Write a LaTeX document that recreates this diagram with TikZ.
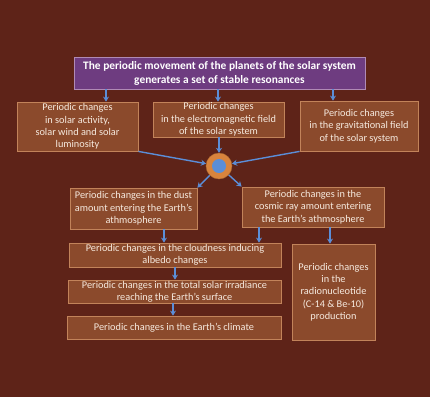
\documentclass[tikz,border=0pt]{standalone}
\usepackage{fontspec}
\setmainfont{Carlito}
\usetikzlibrary{arrows.meta}
\definecolor{bg}{HTML}{5E2318}
\definecolor{boxfill}{HTML}{8B4A2C}
\definecolor{boxline}{HTML}{C2835A}
\definecolor{purp}{HTML}{6E3C80}
\definecolor{purpline}{HTML}{B08AB5}
\definecolor{arrblue}{HTML}{5B8ED8}
\definecolor{orng}{HTML}{D9843D}
\definecolor{txt}{HTML}{F6EADF}
\tikzset{
  box/.style={draw=boxline, fill=boxfill, line width=0.8pt, inner sep=0pt,
    text=txt, align=center, font=\fontsize{10.3}{12.3}\selectfont},
  titlebox/.style={draw=purpline, fill=purp, line width=0.8pt, inner sep=0pt,
    text=white, align=center, font=\fontsize{11.4}{14}\selectfont\bfseries},
  arr/.style={draw=arrblue, line width=1.4pt, -{Stealth[length=5pt,width=6pt]}}
}
\begin{document}
\begin{tikzpicture}[x=1pt,y=-1pt]
\fill[bg] (0,0) rectangle (430,397);
\useasboundingbox (0,0) rectangle (430,397);
\node[titlebox, minimum width=291pt, minimum height=32pt] (t) at (219.5,73)
  {The periodic movement of the planets of the solar system\\generates a set of stable resonances};
\node[box, minimum width=121pt, minimum height=49pt] (b1) at (77.5,126.5)
  {Periodic changes\\in solar activity,\\solar wind and solar\\luminosity};
\node[box, minimum width=131pt, minimum height=35pt] (b2) at (218.5,119.5)
  {Periodic changes\\in the electromagnetic field\\of the solar system};
\node[box, minimum width=118pt, minimum height=50pt] (b3) at (359,126)
  {Periodic changes\\in the gravitational field\\of the solar system};
\node[circle, fill=orng, draw=orng!80!black, line width=0.4pt, minimum size=26pt, inner sep=0pt] (c) at (219,166) {};
\node[circle, fill=arrblue, minimum size=14pt, inner sep=0pt] (ci) at (219,166) {};
\node[box, minimum width=127pt, minimum height=41pt] (b4) at (133.5,208.5)
  {Periodic changes in the dust\\amount entering the Earth's\\athmosphere};
\node[box, minimum width=142pt, minimum height=40pt] (b5) at (313,207)
  {Periodic changes in the\\cosmic ray amount entering\\the Earth's athmosphere};
\node[box, minimum width=212pt, minimum height=24pt] (b6) at (175,255)
  {Periodic changes in the cloudness inducing\\albedo changes};
\node[box, minimum width=83pt, minimum height=96pt] (b7) at (333.5,292)
  {Periodic changes\\in the\\radionucleotide\\(C-14 \& Be-10)\\production};
\node[box, minimum width=213pt, minimum height=23pt] (b8) at (174.5,291.5)
  {Periodic changes in the total solar irradiance\\reaching the Earth's surface};
\node[box, minimum width=214pt, minimum height=23pt] (b9) at (174,327.5)
  {Periodic changes in the Earth's climate};
\draw[arr] (t.south -| 106,0) -- (b1.north -| 106,0);
\draw[arr] (t.south -| 218,0) -- (b2.north -| 218,0);
\draw[arr] (t.south -| 333,0) -- (b3.north -| 333,0);
\draw[arr] (b2.south -| c) -- (c.north);
\draw[arr] (b1.south east) -- (c);
\draw[arr] (b3.south west) -- (c);
\draw[arr] (c) -- (b4.north east);
\draw[arr] (c) -- (b5.north west);
\draw[arr] (b4.south -| 164,0) -- (b6.north -| 164,0);
\draw[arr] (b5.south -| 259,0) -- (b6.north -| 259,0);
\draw[arr] (b5.south -| 330,0) -- (b7.north -| 330,0);
\draw[arr] (b6.south -| 175,0) -- (b8.north -| 175,0);
\draw[arr] (b8.south -| 173,0) -- (b9.north -| 173,0);
\end{tikzpicture}
\end{document}
